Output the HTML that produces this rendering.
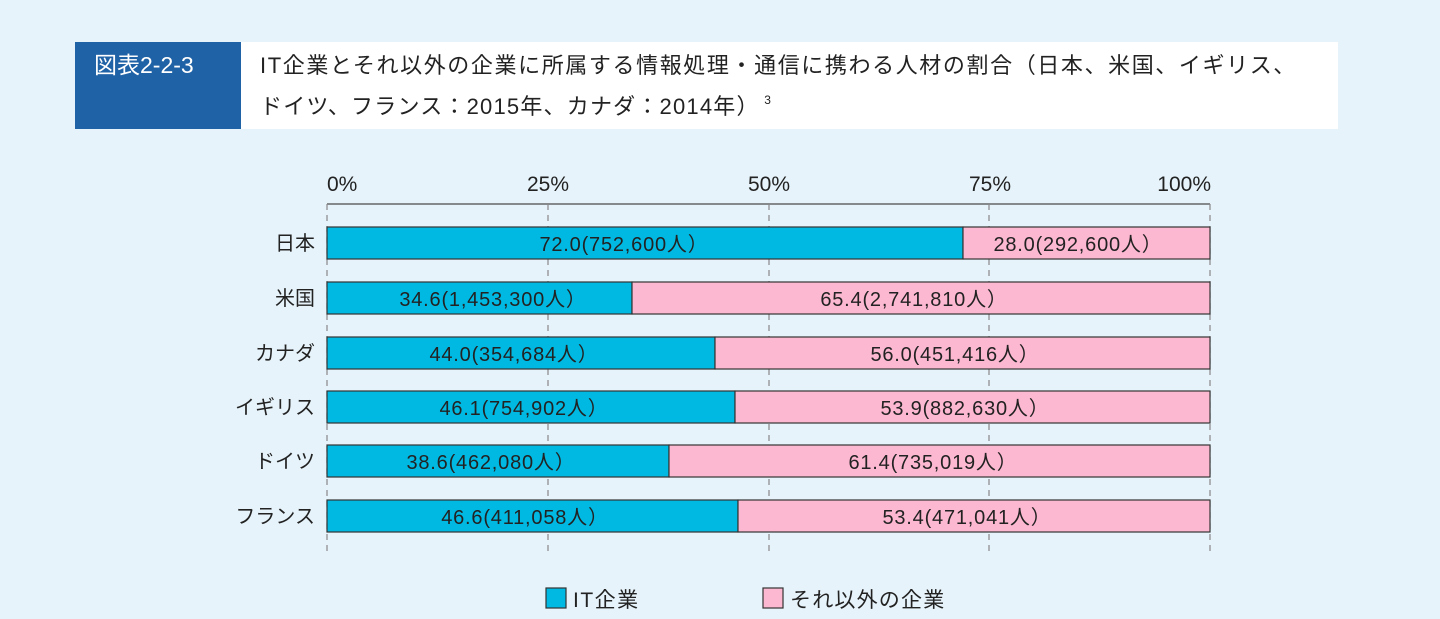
<!DOCTYPE html>
<html><head><meta charset="utf-8"><style>
body{margin:0;background:#e6f3fa;}
svg{display:block;font-family:"Liberation Sans","Noto Sans CJK JP",sans-serif;}
</style></head><body>
<svg width="1440" height="619" viewBox="0 0 1440 619">
<rect x="0" y="0" width="1440" height="619" fill="#e6f3fa"/>
<rect x="75" y="42" width="166" height="87" fill="#2062a6"/>
<rect x="241" y="42" width="1097" height="87" fill="#ffffff"/>
<text x="94" y="73" font-size="23" fill="#fff">図表2-2-3</text>
<text x="260" y="73" font-size="22" letter-spacing="1.6" fill="#222">IT企業とそれ以外の企業に所属する情報処理・通信に携わる人材の割合（日本、米国、イギリス、</text>
<text x="260" y="114" font-size="22" letter-spacing="1.2" fill="#222">ドイツ、フランス：2015年、カナダ：2014年）<tspan font-size="12" dy="-10"> 3</tspan></text>
<g font-size="21" fill="#222">
<text x="327" y="191">0%</text><text x="548" y="191" text-anchor="middle">25%</text><text x="769" y="191" text-anchor="middle">50%</text><text x="990" y="191" text-anchor="middle">75%</text><text x="1211" y="191" text-anchor="end">100%</text>
</g>
<line x1="327" y1="204" x2="1210" y2="204" stroke="#666" stroke-width="1.5"/>
<g stroke="#888" stroke-width="1.2" stroke-dasharray="6,5">
<line x1="327" y1="204" x2="327" y2="556"/><line x1="548" y1="204" x2="548" y2="556"/><line x1="769" y1="204" x2="769" y2="556"/><line x1="989" y1="204" x2="989" y2="556"/><line x1="1210" y1="204" x2="1210" y2="556"/>
</g>
<g stroke="#333" stroke-width="1.2">
<rect x="327" y="227" width="636" height="32" fill="#00b9e3"/><rect x="963" y="227" width="247" height="32" fill="#fdb8d1"/>
<rect x="327" y="282" width="305" height="32" fill="#00b9e3"/><rect x="632" y="282" width="578" height="32" fill="#fdb8d1"/>
<rect x="327" y="337" width="388" height="32" fill="#00b9e3"/><rect x="715" y="337" width="495" height="32" fill="#fdb8d1"/>
<rect x="327" y="391" width="408" height="32" fill="#00b9e3"/><rect x="735" y="391" width="475" height="32" fill="#fdb8d1"/>
<rect x="327" y="445" width="342" height="32" fill="#00b9e3"/><rect x="669" y="445" width="541" height="32" fill="#fdb8d1"/>
<rect x="327" y="500" width="411" height="32" fill="#00b9e3"/><rect x="738" y="500" width="472" height="32" fill="#fdb8d1"/>
</g>
<g font-size="20" letter-spacing="0.8" fill="#222" text-anchor="middle">
<text x="624" y="251">72.0(752,600人）</text><text x="1078" y="251">28.0(292,600人）</text>
<text x="493" y="306">34.6(1,453,300人）</text><text x="914" y="306">65.4(2,741,810人）</text>
<text x="514" y="361">44.0(354,684人）</text><text x="955" y="361">56.0(451,416人）</text>
<text x="524" y="415">46.1(754,902人）</text><text x="965" y="415">53.9(882,630人）</text>
<text x="491" y="469">38.6(462,080人）</text><text x="933" y="469">61.4(735,019人）</text>
<text x="525" y="524">46.6(411,058人）</text><text x="967" y="524">53.4(471,041人）</text>
</g>
<g font-size="20" fill="#222" text-anchor="end">
<text x="315" y="250">日本</text><text x="315" y="305">米国</text><text x="315" y="360">カナダ</text><text x="315" y="414">イギリス</text><text x="315" y="468">ドイツ</text><text x="315" y="523">フランス</text>
</g>
<rect x="546" y="588" width="20" height="20" fill="#00b9e3" stroke="#333" stroke-width="1.2"/>
<text x="573" y="607" font-size="21" letter-spacing="1.5" fill="#222">IT企業</text>
<rect x="763" y="588" width="20" height="20" fill="#fdb8d1" stroke="#333" stroke-width="1.2"/>
<text x="790" y="607" font-size="21" letter-spacing="1.2" fill="#222">それ以外の企業</text>
</svg>
</body></html>
